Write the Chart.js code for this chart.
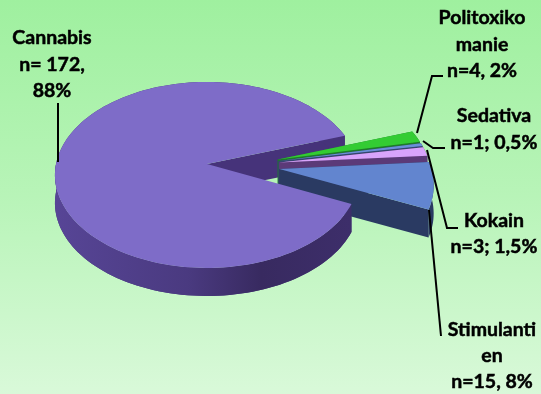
<!DOCTYPE html>
<html>
<head>
<meta charset="utf-8">
<script src="https://cdn.jsdelivr.net/npm/chart.js@4"></script>
<style>
  html, body { margin: 0; padding: 0; width: 541px; height: 394px; overflow: hidden; }
  body { background: linear-gradient(180deg, #9ff09f 0%, #b8f4b8 50%, #d9f9d9 100%); }
  canvas { display: block; }
</style>
</head>
<body>
<canvas id="chart" width="541" height="394"></canvas>
<script>
const categories = ['Cannabis', 'Politoxikomanie', 'Sedativa', 'Kokain', 'Stimulanten'];
const shares = [88, 2, 0.5, 1.5, 8];
const topColors = ['#7e6cc8', '#33cc33', '#6a8fd8', '#d8a4fb', '#6285cf'];
const wallColors = ['#46337a', '#1f7a2c', '#33466e', '#5b3a78', '#2a3a62'];

const labelLines = [
  ['Cannabis', 'n= 172,', '88%'],
  ['Politoxiko', 'manie', 'n=4, 2%'],
  ['Sedativa', 'n=1; 0,5%'],
  ['Kokain', 'n=3; 1,5%'],
  ['Stimulanti', 'en', 'n=15, 8%'],
];
const labelCenters = [[52, 38], [482, 18], [494, 116], [494, 221], [492, 330]];
const labelGaps = [26.5, 26.5, 27, 26, 26];
const leaderLines = [
  [[58, 103], [58, 162]],
  [[443, 76], [432, 76], [417, 133]],
  [[445, 148], [433, 148], [423, 141]],
  [[458, 228], [447, 228], [427, 150]],
  [[429, 210], [441, 336]],
];

// fake 3D: the flat pie is projected with a little perspective
const ORIGIN_X = 207;
const ORIGIN_Y = 164;
const RADIUS_X = 151;
const RADIUS_Y = 91.7;
const TILT = 0.118;
const EXPLODE = 0.24;
const DEPTH = 28;
const ARC_STEP = Math.PI / 90;

function project(u, v) {
  const w = 1 - TILT * v;
  return [ORIGIN_X + (RADIUS_X * u) / w, ORIGIN_Y + (RADIUS_Y * v) / w];
}

function fillPath(ctx, points, color) {
  ctx.beginPath();
  points.forEach((p, i) => (i ? ctx.lineTo(p[0], p[1]) : ctx.moveTo(p[0], p[1])));
  ctx.closePath();
  ctx.fillStyle = color;
  ctx.fill();
}

function sliceGeometry(arc, firstMid) {
  const mid = (arc.startAngle + arc.endAngle) / 2;
  // shift relative to the big slice, whose tip sits on the projection origin
  const du = EXPLODE * (Math.cos(mid) - Math.cos(firstMid));
  const dv = EXPLODE * (Math.sin(mid) - Math.sin(firstMid));
  const at = (a) => project(du + Math.cos(a), dv + Math.sin(a));
  return { apex: project(du, dv), at, start: arc.startAngle, end: arc.endAngle };
}

function arcPoints(s, from, to) {
  const pts = [];
  for (let a = from; a < to; a += ARC_STEP) pts.push(s.at(a));
  pts.push(s.at(to));
  return pts;
}

const lowered = (p) => [p[0], p[1] + DEPTH];

function drawRadialFace(ctx, s, angle, color) {
  const tip = s.at(angle);
  fillPath(ctx, [s.apex, tip, lowered(tip), lowered(s.apex)], color);
}

function drawStrip(ctx, s, from, to, color) {
  const pts = arcPoints(s, from, to);
  fillPath(ctx, pts.concat(pts.slice().reverse().map(lowered)), color);
}

function drawTop(ctx, s, color) {
  fillPath(ctx, [s.apex].concat(arcPoints(s, s.start, s.end)), color);
}

const pie3d = {
  id: 'pie3d',
  beforeDatasetDraw(chart, args) {
    const ctx = chart.ctx;
    const arcs = args.meta.data;
    const firstMid = (arcs[0].startAngle + arcs[0].endAngle) / 2;
    const big = sliceGeometry(arcs[0], firstMid);

    ctx.save();
    // back of the big slice goes first, the exploded slices cover it
    drawRadialFace(ctx, big, big.end, wallColors[0]);
    drawStrip(ctx, big, big.start, big.end, wallColors[0]);

    arcs.slice(1).forEach((arc, i) => {
      const s = sliceGeometry(arc, firstMid);
      drawRadialFace(ctx, s, s.start, wallColors[i + 1]);
      drawRadialFace(ctx, s, s.end, wallColors[i + 1]);
      drawStrip(ctx, s, s.start, s.end, wallColors[i + 1]);
      drawTop(ctx, s, topColors[i + 1]);
    });

    // front wall of the big slice lies over the stimulant wedge
    const shade = ctx.createLinearGradient(55, 0, 350, 0);
    shade.addColorStop(0, '#574596');
    shade.addColorStop(0.45, '#4a3a80');
    shade.addColorStop(0.7, '#382a60');
    shade.addColorStop(1, '#3d2e6a');
    drawStrip(ctx, big, big.start, Math.PI, shade);
    drawTop(ctx, big, topColors[0]);
    ctx.restore();
    return false;
  },
  afterDraw(chart) {
    const ctx = chart.ctx;
    ctx.save();
    ctx.strokeStyle = '#000';
    ctx.lineWidth = 2;
    leaderLines.forEach((line) => {
      ctx.beginPath();
      line.forEach((p, i) => (i ? ctx.lineTo(p[0], p[1]) : ctx.moveTo(p[0], p[1])));
      ctx.stroke();
    });
    ctx.fillStyle = '#000';
    ctx.font = "bold 19.5px Lato, sans-serif";
    ctx.textAlign = 'center';
    ctx.textBaseline = 'middle';
    ctx.lineWidth = 0.5;
    labelLines.forEach((lines, i) => {
      lines.forEach((text, j) => {
        const y = labelCenters[i][1] + j * labelGaps[i];
        ctx.fillText(text, labelCenters[i][0], y);
        ctx.strokeText(text, labelCenters[i][0], y);
      });
    });
    ctx.restore();
  },
};

new Chart(document.getElementById('chart'), {
  type: 'pie',
  data: {
    labels: categories,
    datasets: [{ data: shares, backgroundColor: topColors, borderWidth: 0 }],
  },
  options: {
    responsive: false,
    animation: false,
    rotation: 114.5,
    plugins: { legend: { display: false }, tooltip: { enabled: false } },
  },
  plugins: [pie3d],
});
</script>
</body>
</html>
